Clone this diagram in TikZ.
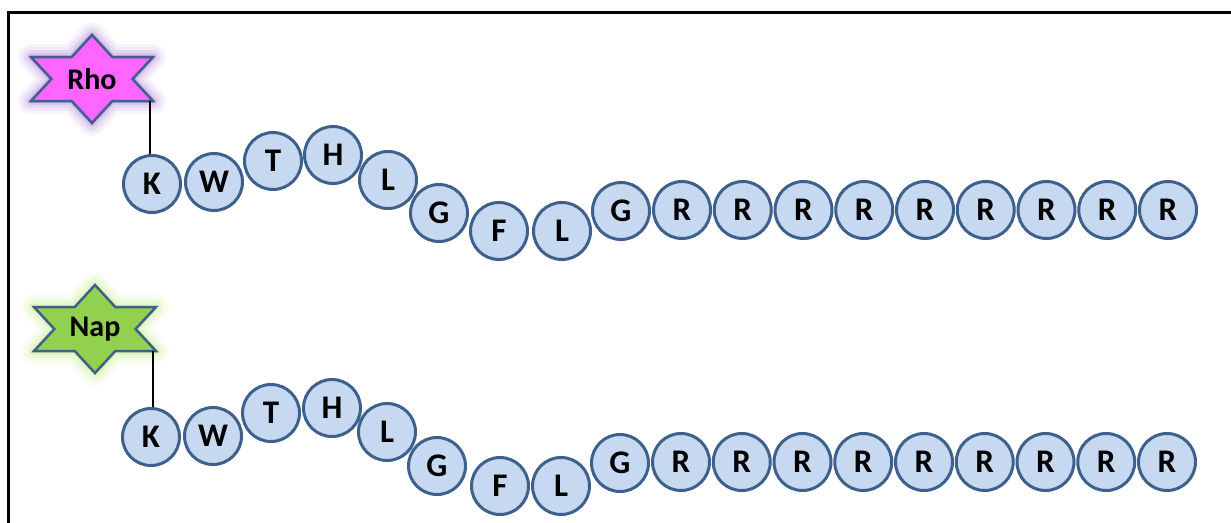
\documentclass[tikz,border=0pt]{standalone}
\usepackage{fontspec}
\setmainfont{Carlito}
\definecolor{beadfill}{RGB}{198,217,240}
\definecolor{beadline}{RGB}{62,96,140}
\definecolor{rhofill}{RGB}{255,102,255}
\definecolor{rhoglow}{RGB}{170,120,210}
\definecolor{napfill}{RGB}{146,208,80}
\definecolor{napglow}{RGB}{190,235,120}
\tikzset{
  bead/.style={circle, draw=beadline, fill=beadfill, line width=3pt,
    minimum size=57pt, inner sep=0pt, font=\bfseries\fontsize{33}{33}\selectfont},
  starlabel/.style={font=\bfseries\fontsize{30}{30}\selectfont, inner sep=0pt},
  tether/.style={draw=black, line width=2pt},
  hexstar/.pic={
    \path[pic actions] (0,-44) -- (20.3,-22) -- (61,-22) -- (40.6,0) -- (61,22)
      -- (20.3,22) -- (0,44) -- (-20.3,22) -- (-61,22) -- (-40.6,0)
      -- (-61,-22) -- (-20.3,-22) -- cycle;
    \coordinate (-tip) at (58,22);
  },
  glowstar/.style={draw=#1, line join=round, fill=#1}
}
\newcommand\glowat[2]{%
  \foreach \w/\o in {26/0.08,20/0.10,14/0.14,8/0.2,4/0.3}{
    \pic[glowstar=#2, line width=\w pt, opacity=\o] at (#1) {hexstar};
  }}
\begin{document}
\begin{tikzpicture}[x=1pt,y=-1pt]
\useasboundingbox (0,0) rectangle (1231,522);
% frame
\draw[line width=3pt, black] (8,540) -- (8,12) -- (1240,12);

% ---- Rhodamine-labelled chain ----
\glowat{92,79}{rhoglow}
\pic[draw=beadline, fill=rhofill, line width=2.5pt, line join=miter] (rho) at (92,79) {hexstar};
\node[starlabel] (rholab) at (92,79) {Rho};

\foreach \n/\x/\y/\aa in {1/152/184/K, 2/214/182/W, 3/273/161/T, 4/333/155/H,
    5/388/180/L, 6/439/213/G, 7/499/231/F, 8/562/231/L, 9/621/211/G}
  \node[bead] (a\n) at (\x,\y) {\aa};
\foreach \i in {0,...,8}{
  \pgfmathsetmacro\xx{682+\i*60.75}
  \pgfmathtruncatemacro\n{\i+10}
  \node[bead] (a\n) at (\xx,210) {R};
}
\draw[tether] (rho-tip) -- (rho-tip |- a1.north);

% ---- Naphthalimide-labelled chain ----
\glowat{95,329}{napglow}
\pic[draw=beadline, fill=napfill, line width=2.5pt, line join=miter] (nap) at (95,329) {hexstar};
\node[starlabel] (naplab) at (95,329) {Nap};

\foreach \n/\x/\y/\aa in {1/151/437/K, 2/213/436/W, 3/271/413/T, 4/332/408/H,
    5/387/432/L, 6/437/466/G, 7/500/486/F, 8/561/486/L, 9/620/463/G}
  \node[bead] (b\n) at (\x,\y) {\aa};
\foreach \i in {0,...,8}{
  \pgfmathsetmacro\xx{681+\i*60.75}
  \pgfmathtruncatemacro\n{\i+10}
  \node[bead] (b\n) at (\xx,462) {R};
}
\draw[tether] (nap-tip) -- (nap-tip |- b1.north);
\end{tikzpicture}
\end{document}
